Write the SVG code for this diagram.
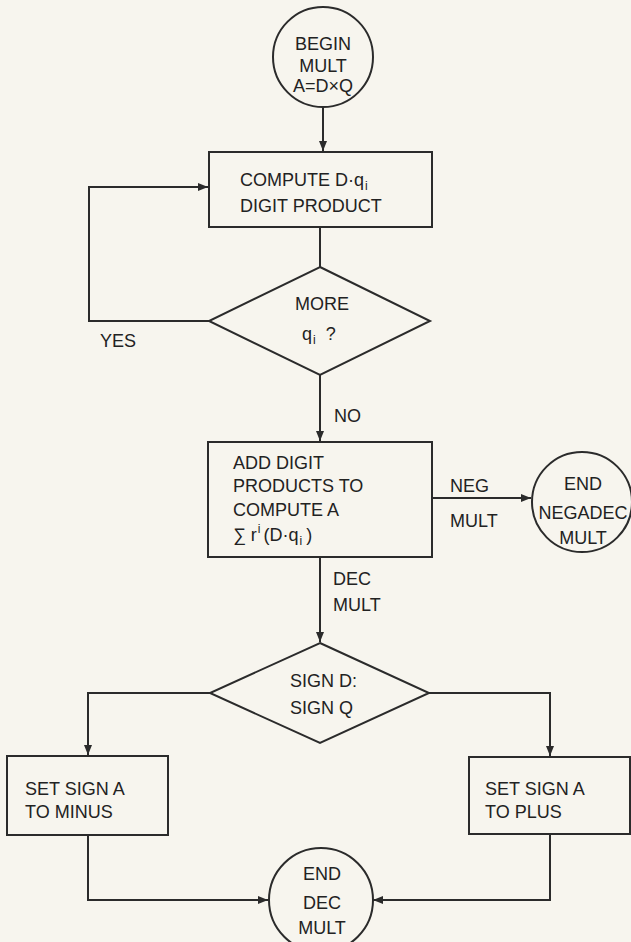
<svg xmlns="http://www.w3.org/2000/svg" width="631" height="942" viewBox="0 0 631 942">
<style>
.bg{fill:#f7f5ee}
.n{fill:none;stroke:#2b2b2b;stroke-width:2}
.c{fill:none;stroke:#2b2b2b;stroke-width:2}
text{font-family:"Liberation Sans",Arial,sans-serif;font-size:18px;fill:#222}
.m{text-anchor:middle}
.s{font-size:12px}
</style>
<defs>
<marker id="ah" markerUnits="userSpaceOnUse" markerWidth="11" markerHeight="9" refX="10" refY="4" orient="auto">
<path d="M0,0 L10,4 L0,8 z" fill="#2b2b2b"/>
</marker>
</defs>
<rect class="bg" x="0" y="0" width="631" height="942"/>
<g id="connectors">
<line class="c" x1="323" y1="107" x2="323" y2="151" marker-end="url(#ah)"/>
<line class="c" x1="320" y1="227" x2="320" y2="267"/>
<polyline class="c" points="209,321 89,321 89,187 208,187" marker-end="url(#ah)"/>
<line class="c" x1="320" y1="375" x2="320" y2="441" marker-end="url(#ah)"/>
<line class="c" x1="432" y1="498" x2="531" y2="498" marker-end="url(#ah)"/>
<line class="c" x1="320" y1="557" x2="320" y2="642" marker-end="url(#ah)"/>
<polyline class="c" points="210,693 88,693 88,755" marker-end="url(#ah)"/>
<polyline class="c" points="429,693 550,693 550,756" marker-end="url(#ah)"/>
<polyline class="c" points="88,835 88,900 268,900" marker-end="url(#ah)"/>
<polyline class="c" points="550,834 550,900 373,900" marker-end="url(#ah)"/>
<text x="118" y="347" class="m">YES</text>
<text x="334" y="422">NO</text>
<text x="450" y="492">NEG</text>
<text x="450" y="527">MULT</text>
<text x="333" y="585">DEC</text>
<text x="333" y="611">MULT</text>
</g>
<g id="begin">
<circle class="n" cx="323" cy="57" r="50"/>
<text x="323" y="50" class="m">BEGIN</text>
<text x="323" y="72" class="m">MULT</text>
<text x="323" y="92" class="m">A=D×Q</text>
</g>
<g id="compute">
<rect class="n" x="209" y="152" width="223" height="75"/>
<text x="240" y="186">COMPUTE D·q<tspan dx="1" dy="4" class="s">i</tspan></text>
<text x="240" y="212">DIGIT PRODUCT</text>
</g>
<g id="more">
<polygon class="n" points="320,267 430,321 320,375 209,321"/>
<text x="322" y="310" class="m">MORE</text>
<text x="302" y="340">q<tspan dx="1" dy="4" class="s">i</tspan><tspan dx="10" dy="-4">?</tspan></text>
</g>
<g id="add">
<rect class="n" x="208" y="442" width="224" height="115"/>
<text x="233" y="469">ADD DIGIT</text>
<text x="233" y="492">PRODUCTS TO</text>
<text x="233" y="516">COMPUTE A</text>
<text x="233" y="541">∑ r<tspan dx="1" dy="-8" class="s">i</tspan><tspan dx="3" dy="8">(D·q</tspan><tspan dx="1" dy="4" class="s">i</tspan><tspan dx="4" dy="-4">)</tspan></text>
</g>
<g id="endneg">
<circle class="n" cx="582" cy="502" r="50"/>
<text x="583" y="490" class="m">END</text>
<text x="583" y="519" class="m">NEGADEC</text>
<text x="583" y="544" class="m">MULT</text>
</g>
<g id="sign">
<polygon class="n" points="320,643 429,693 320,743 210,693"/>
<text x="290" y="687">SIGN D:</text>
<text x="290" y="714">SIGN Q</text>
</g>
<g id="minus">
<rect class="n" x="7" y="756" width="161" height="79"/>
<text x="25" y="795">SET SIGN A</text>
<text x="25" y="818">TO MINUS</text>
</g>
<g id="plus">
<rect class="n" x="469" y="757" width="161" height="77"/>
<text x="485" y="795">SET SIGN A</text>
<text x="485" y="818">TO PLUS</text>
</g>
<g id="enddec">
<circle class="n" cx="321" cy="900" r="52"/>
<text x="322" y="880" class="m">END</text>
<text x="322" y="909" class="m">DEC</text>
<text x="322" y="934" class="m">MULT</text>
</g>
</svg>
